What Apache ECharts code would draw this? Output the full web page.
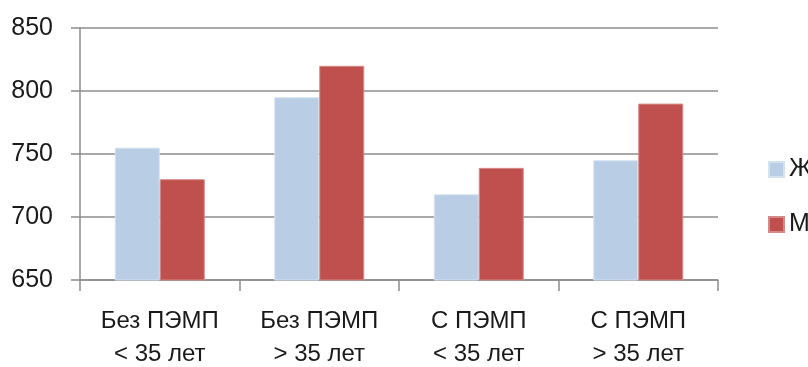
<!DOCTYPE html>
<html>
<head>
<meta charset="utf-8">
<script src="https://cdn.jsdelivr.net/npm/echarts@6/dist/echarts.min.js"></script>
<style>
  html, body { margin: 0; padding: 0; background: #fff; }
  #chart { width: 808px; height: 367px; }
</style>
</head>
<body>
<div id="chart"></div>
<script>
// Groups and their two-line captions
const categories = ['Без ПЭМП\n< 35 лет', 'Без ПЭМП\n> 35 лет', 'С ПЭМП\n< 35 лет', 'С ПЭМП\n> 35 лет'];
const seriesNames = ['Ж', 'М'];
const femaleValues = [755, 795, 718, 745];
const maleValues = [730, 820, 739, 790];
const yMin = 650, yMax = 850, yStep = 50;

const axisGrey = '#8c8c8c';
const font = '"Liberation Sans", Arial, sans-serif';

const chart = echarts.init(document.getElementById('chart'), null, { renderer: 'canvas' });
chart.setOption({
  animation: false,
  backgroundColor: '#ffffff',
  grid: { left: 80, right: 90, top: 28, bottom: 87, containLabel: false, outerBoundsMode: 'none' },
  legend: {
    orient: 'vertical',
    left: 763,
    top: 152,
    itemWidth: 15,
    itemHeight: 15,
    itemGap: 30,
    icon: 'rect',
    textStyle: { fontFamily: font, fontSize: 25, color: '#1a1a1a', padding: [0, 0, 0, 0] },
    data: seriesNames
  },
  xAxis: {
    type: 'category',
    data: categories,
    axisLine: { show: true, lineStyle: { color: axisGrey, width: 1.5 } },
    axisTick: { show: true, length: 11, lineStyle: { color: axisGrey, width: 1.5 } },
    axisLabel: {
      fontFamily: font, fontSize: 24, color: '#1a1a1a', lineHeight: 33, margin: 25
    },
    splitLine: { show: false }
  },
  yAxis: {
    type: 'value',
    min: yMin,
    max: yMax,
    interval: yStep,
    axisLine: { show: true, lineStyle: { color: axisGrey, width: 1.5 } },
    axisTick: { show: true, length: 9, lineStyle: { color: axisGrey, width: 1.5 } },
    axisLabel: { fontFamily: font, fontSize: 25, color: '#1a1a1a', margin: 27 },
    splitLine: { show: true, lineStyle: { color: axisGrey, width: 1.5 } }
  },
  series: [
    {
      name: seriesNames[0],
      type: 'bar',
      data: femaleValues,
      barWidth: 45,
      barGap: '0%',
      itemStyle: { color: '#B9CDE5', borderColor: '#d4e1f0', borderWidth: 1 }
    },
    {
      name: seriesNames[1],
      type: 'bar',
      data: maleValues,
      barWidth: 45,
      barGap: '0%',
      itemStyle: { color: '#C0504D', borderColor: '#d48a88', borderWidth: 1 }
    }
  ]
});
</script>
</body>
</html>
